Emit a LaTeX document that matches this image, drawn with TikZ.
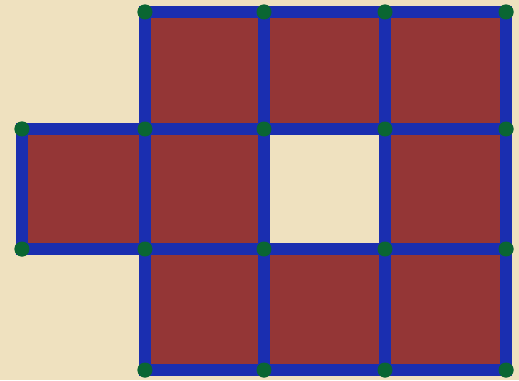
\documentclass[tikz,border=0pt]{standalone}
\definecolor{parch}{HTML}{EFE1BF}
\definecolor{cellred}{HTML}{943636}
\definecolor{edgeblue}{HTML}{1A2EB0}
\definecolor{dotgreen}{HTML}{0A6632}
\tikzset{
  cell/.style={fill=cellred, draw=none},
  edge/.style={draw=edgeblue, line width=11.5pt, line cap=rect},
  vtx/.style={circle, fill=dotgreen, inner sep=0pt, minimum size=15pt}
}
\begin{document}
\begin{tikzpicture}[x=1pt,y=-1pt]
\fill[parch] (0,0) rectangle (519,380);
\useasboundingbox (0,0) rectangle (519,380);
% grid coordinates
\foreach \i/\x in {0/22,1/145,2/264,3/385,4/506}{
  \foreach \j/\y in {0/12,1/129,2/249,3/370}{
    \coordinate (c\i\j) at (\x,\y);
  }
}
% cells
\foreach \i/\j in {1/0,2/0,3/0,0/1,1/1,3/1,1/2,2/2,3/2}{
  \pgfmathtruncatemacro{\ii}{\i+1}
  \pgfmathtruncatemacro{\jj}{\j+1}
  \fill[cell] (c\i\j) rectangle (c\ii\jj);
}
% vertices
\foreach \n in {10,20,30,40,01,11,21,31,41,02,12,22,32,42,13,23,33,43}{
  \node[vtx] (v\n) at (c\n) {};
}
% edges
\draw[edge] (v10.center) -- (v40.center);
\draw[edge] (v01.center) -- (v41.center);
\draw[edge] (v02.center) -- (v42.center);
\draw[edge] (v13.center) -- (v43.center);
\draw[edge] (v01.center) -- (v02.center);
\draw[edge] (v10.center) -- (v13.center);
\draw[edge] (v20.center) -- (v23.center);
\draw[edge] (v30.center) -- (v33.center);
\draw[edge] (v40.center) -- (v43.center);
% redraw vertices on top
\foreach \n in {10,20,30,40,01,11,21,31,41,02,12,22,32,42,13,23,33,43}{
  \fill[dotgreen] (c\n) circle (7.5pt);
}
\end{tikzpicture}
\end{document}
